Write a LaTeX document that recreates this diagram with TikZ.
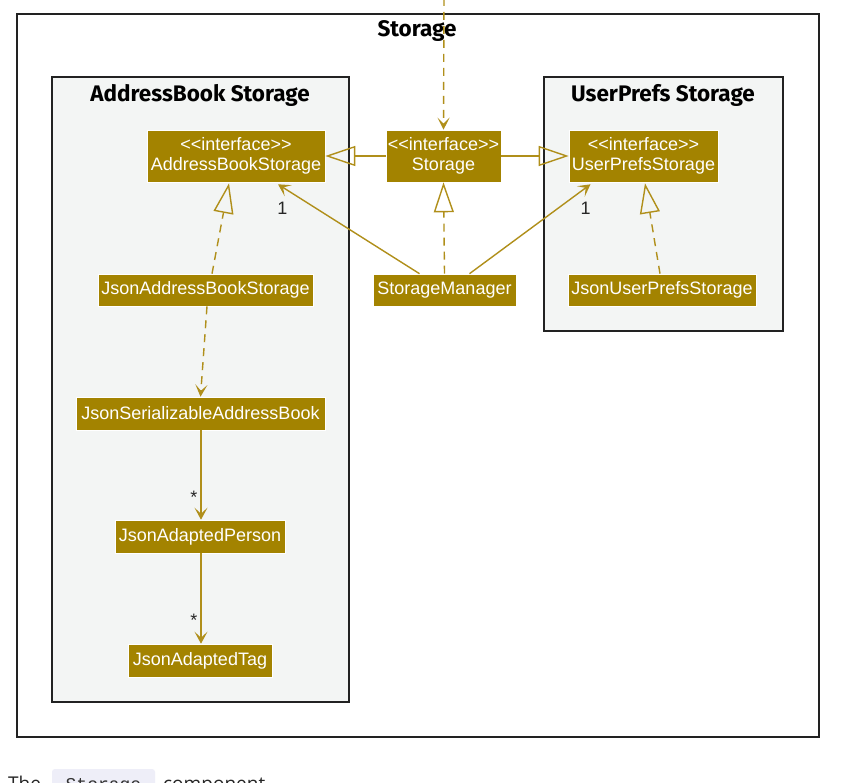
\documentclass[tikz,border=0pt]{standalone}
\usepackage{fontspec}
\setmainfont{Liberation Sans}[Ligatures=NoCommon]
\newfontfamily\titlefont{Fira Sans}
\newfontfamily\docfont{Open Sans}
\newfontfamily\codefont{Liberation Mono}
\usetikzlibrary{arrows.meta,calc}
\definecolor{stor}{HTML}{A38300}
\definecolor{storline}{HTML}{B08F1A}
\definecolor{pkgfill}{HTML}{F3F5F4}
\definecolor{pkgline}{HTML}{222222}
\definecolor{codebg}{HTML}{EEEEF8}
\newcommand{\ifc}{{<}{<}interface{>}{>}}
\begin{document}
\begin{tikzpicture}[x=1pt,y=-1pt,
  cls/.style={draw=white, line width=0.6pt, fill=stor, text=white, inner sep=0pt,
    font=\fontsize{18}{20}\selectfont, align=center},
  pkg/.style={draw=pkgline, line width=1.6pt, fill=pkgfill},
  ttl/.style={font=\titlefont\bfseries\fontsize{22.5}{26}\selectfont, text=black, inner sep=0pt},
  conn/.style={draw=storline, line width=1.4pt},
  dep/.style={conn, dash pattern=on 8pt off 6pt, -{Stealth[length=12pt,width=12pt,inset=6pt]}},
  assoc/.style={conn, -{Stealth[length=12pt,width=13pt,inset=6pt]}},
  real/.style={conn, dash pattern=on 8pt off 6pt, -{Triangle[open,length=30pt,width=20pt]}},
  gen/.style={conn, -{Triangle[open,length=30pt,width=20pt]}},
  mult/.style={font=\fontsize{18}{20}\selectfont, text=black!85, inner sep=0pt}
]
\useasboundingbox (0,0) rectangle (857,783);
\clip (0,0) rectangle (857,783);
\fill[white] (0,0) rectangle (857,783);

% outer package
\draw[draw=pkgline, line width=1.6pt, fill=white] (17,14) rectangle (819,737);
\node[ttl] (tstorage) at (417,31) {Storage};

% AddressBook Storage package
\draw[pkg] (52,77) rectangle (349,702);
\node[ttl] (tab) at (200,95) {AddressBook Storage};

% UserPrefs Storage package
\draw[pkg] (544,77) rectangle (783,331);
\node[ttl] (tup) at (663,95) {UserPrefs Storage};

% classes
\node[cls, minimum width=178pt, minimum height=52pt] (absI) at (236,156) {\ifc\\AddressBookStorage};
\node[cls, minimum width=115pt, minimum height=52pt] (storI) at (443.5,156) {\ifc\\Storage};
\node[cls, minimum width=149pt, minimum height=52pt] (upI) at (643.5,156) {\ifc\\UserPrefsStorage};
\node[cls, minimum width=215pt, minimum height=32pt] (jabs) at (205.5,290) {JsonAddressBookStorage};
\node[cls, minimum width=143pt, minimum height=32pt] (sm) at (444.5,290) {StorageManager};
\node[cls, minimum width=188pt, minimum height=32pt] (jups) at (662,290) {JsonUserPrefsStorage};
\node[cls, minimum width=249pt, minimum height=33pt] (jsab) at (200.5,413.5) {JsonSerializableAddressBook};
\node[cls, minimum width=170pt, minimum height=33pt] (jap) at (200,536.5) {JsonAdaptedPerson};
\node[cls, minimum width=144pt, minimum height=33pt] (jat) at (200,660.5) {JsonAdaptedTag};

% incoming dependency from above
\coordinate (topin) at (444,-2);
\draw[dep] (topin) -- (storI.north);

% generalisations of Storage
\draw[gen] (storI.west) -- (absI.east);
\draw[gen] (storI.east) -- (upI.west);

% realisations
\draw[real] (sm.north) -- (storI.south);
\draw[real] ($(jabs.north)+(6.5,0)$) -- ($(absI.south)+(-7,1)$);
\draw[real] ($(jups.north)+(-2,0)$) -- ($(upI.south)+(1.5,1)$);

% associations from StorageManager
\draw[assoc] ($(sm.north)+(-25,0)$) -- ($(absI.south)+(42,2)$);
\draw[assoc] ($(sm.north)+(25,0)$) -- ($(upI.south)+(-53,2)$);
\node[mult] (m1) at (282.5,208) {1};
\node[mult] (m2) at (585.5,208) {1};

% AddressBook chain
\draw[dep] ($(jabs.south)+(1.5,0)$) -- ($(jsab.north)+(0,0)$);
\draw[assoc] ($(jsab.south)+(0.5,0)$) -- ($(jap.north)+(1,0)$);
\draw[assoc] ($(jap.south)+(1,0)$) -- ($(jat.north)+(1,0)$);
\node[mult] (m3) at (194,497) {*};
\node[mult] (m4) at (194,620) {*};

% caption (cut off at the bottom edge, as in the reference)
\fill[codebg, rounded corners=3pt] (52,769) rectangle (155,800);
\node[anchor=base west, inner sep=0pt, font=\docfont\fontsize{19}{22}\selectfont, text=black!85] (cap1) at (8,790) {The};
\node[anchor=base, inner sep=0pt, font=\codefont\fontsize{18}{22}\selectfont, text=black!80] (cap2) at (103.5,790) {Storage};
\node[anchor=base west, inner sep=0pt, font=\docfont\fontsize{19}{22}\selectfont, text=black!85] (cap3) at (163,790) {component};
\end{tikzpicture}
\end{document}
